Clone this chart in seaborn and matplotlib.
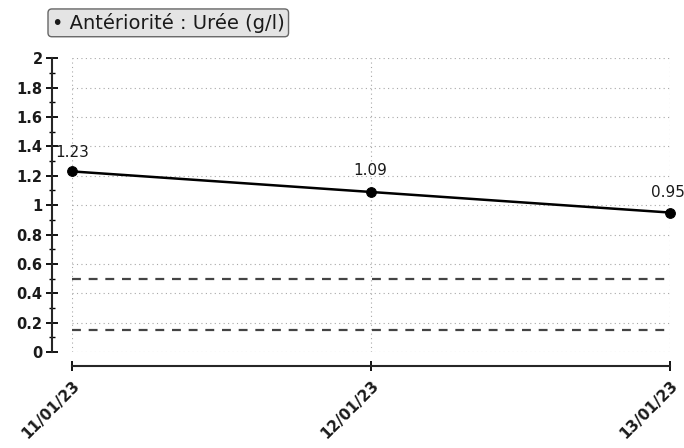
import pandas as pd
import matplotlib.pyplot as plt
from matplotlib.ticker import MultipleLocator
import seaborn as sns

dates = ['11/01/23', '12/01/23', '13/01/23']
uree = [1.23, 1.09, 0.95]
ref_haut = 0.50
ref_bas = 0.15
titre = '• Antériorité : Urée (g/l)'

sns.set_style('white')
plt.rcParams['font.family'] = ['DejaVu Sans']

df = pd.DataFrame({'pos': range(len(dates)), 'uree': uree})

fig = plt.figure(figsize=(6.84, 4.48), dpi=100)
ax = fig.add_axes([0.105, 0.214, 0.874, 0.656])

# spines d'abord : set_position remet les ticks à zéro
ax.spines['top'].set_visible(False)
ax.spines['right'].set_visible(False)
ax.spines['left'].set_linewidth(1.5)
ax.spines['bottom'].set_linewidth(1.5)
ax.spines['left'].set_position(('outward', 14))
ax.spines['bottom'].set_position(('outward', 10))

# seuils de référence
for val in (ref_haut, ref_bas):
    ax.axhline(val, color='#444444', lw=1.6, ls=(0, (4, 3.5)), zorder=2)

sns.lineplot(data=df, x='pos', y='uree', ax=ax, color='black', lw=1.8,
             marker='o', markersize=7, markeredgecolor='black', clip_on=False, zorder=4)

# étiquettes des valeurs
offsets = [(-12, 8, 'left'), (0, 10, 'center'), (11, 9, 'right')]
for i, v in enumerate(uree):
    dx, dy, ha = offsets[i]
    ax.annotate(f'{v:.2f}', (i, v), xytext=(dx, dy), textcoords='offset points',
                ha=ha, va='bottom', fontsize=11, color='#1a1a1a', annotation_clip=False)

ax.set_xlabel('')
ax.set_ylabel('')
ax.set_xlim(0, len(dates) - 1)
ax.set_ylim(0, 2)
ax.set_xticks(range(len(dates)))
ax.set_xticklabels(dates, rotation=45, ha='right', rotation_mode='anchor',
                   fontsize=11, fontweight='bold', color='#1a1a1a')
ax.yaxis.set_minor_locator(MultipleLocator(0.1))
ax.set_yticks([i * 0.2 for i in range(11)])
ax.set_yticklabels([f'{i * 0.2:.1f}'.rstrip('0').rstrip('.') for i in range(11)],
                   fontweight='bold', fontsize=10.5, color='#1a1a1a')
ax.tick_params(axis='y', which='major', left=True, direction='inout', length=8,
               width=1.3, pad=3, color='black')
ax.tick_params(axis='y', which='minor', left=True, direction='inout', length=4,
               width=1, color='black')
ax.tick_params(axis='x', which='major', bottom=True, direction='inout', length=7,
               width=1.3, pad=5, color='black')

ax.grid(True, which='major', color='#a8a8a8', ls=(0, (1, 3)), lw=0.8)

fig.text(0.246, 0.949, titre, ha='center', va='center', fontsize=14, color='#1a1a1a',
         bbox=dict(boxstyle='round,pad=0.2', facecolor='#e4e4e4', edgecolor='#666666', lw=1))

fig.savefig('out.png', dpi=100, facecolor='white')
